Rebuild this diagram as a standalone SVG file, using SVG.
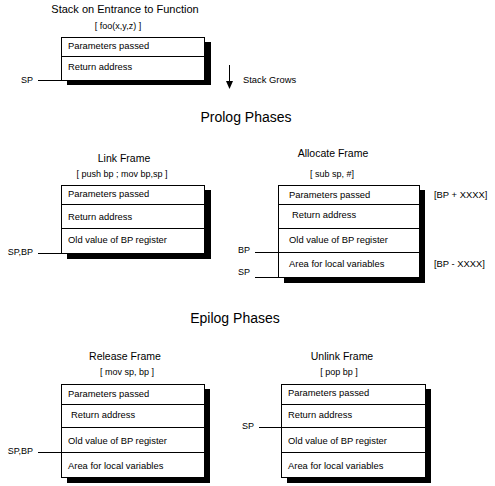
<svg xmlns="http://www.w3.org/2000/svg" width="495" height="486" viewBox="0 0 495 486">
<style>
text{font-family:"Liberation Sans",Arial,sans-serif;fill:#000}
.t{font-size:10.5px;text-anchor:middle}
.s{font-size:9px;text-anchor:middle}
.h{font-size:14px;text-anchor:middle}
.c{font-size:9.4px}
.l{font-size:9px;text-anchor:end}
.box{fill:#fff;stroke:#000;stroke-width:1}
.sh{fill:#000}
.div{stroke:#000;stroke-width:1}
.ptr{stroke:#000;stroke-width:1;fill:none}
</style>
<rect width="495" height="486" fill="#fff"/>

<g id="entrance">
<text class="t" x="125" y="13" style="font-size:11px">Stack on Entrance to Function</text>
<text class="s" x="118" y="29">[ foo(x,y,z) ]</text>
<rect class="sh" x="67" y="42" width="144" height="43"/>
<rect class="box" x="61.5" y="37.5" width="143" height="43"/>
<line class="div" x1="61.5" y1="56.5" x2="204.5" y2="56.5"/>
<text class="c" x="68" y="49">Parameters passed</text>
<text class="c" x="68" y="70">Return address</text>
</g>

<g id="stack-grows">
<line class="ptr" x1="229.5" y1="65" x2="229.5" y2="83"/>
<polygon points="226,81 233,81 229.5,89" fill="#000"/>
<text class="c" x="243" y="83">Stack Grows</text>
</g>

<g id="prolog-heading"><text class="h" x="246" y="122">Prolog Phases</text></g>

<g id="link-frame">
<text class="t" x="124" y="162">Link Frame</text>
<text class="s" x="122" y="177">[ push bp ; mov bp,sp ]</text>
<rect class="sh" x="67" y="190" width="144" height="69"/>
<rect class="box" x="61.5" y="185.5" width="143" height="68"/>
<line class="div" x1="61.5" y1="204.5" x2="204.5" y2="204.5"/>
<line class="div" x1="61.5" y1="228.5" x2="204.5" y2="228.5"/>
<text class="c" x="68" y="197">Parameters passed</text>
<text class="c" x="68" y="220">Return address</text>
<text class="c" x="68" y="243">Old value of BP register</text>
</g>

<g id="allocate-frame">
<text class="t" x="333" y="157">Allocate Frame</text>
<text class="s" x="332" y="177">[ sub sp, #]</text>
<rect class="sh" x="284" y="190" width="141" height="93"/>
<rect class="box" x="278.5" y="185.5" width="141" height="92"/>
<line class="div" x1="278.5" y1="204.5" x2="419.5" y2="204.5"/>
<line class="div" x1="278.5" y1="228.5" x2="419.5" y2="228.5"/>
<line class="div" x1="278.5" y1="252.5" x2="419.5" y2="252.5"/>
<text class="c" x="289" y="198">Parameters passed</text>
<text class="c" x="292" y="218">Return address</text>
<text class="c" x="289" y="243">Old value of BP register</text>
<text class="c" x="289" y="267">Area for local variables</text>
<text class="c" x="434" y="198">[BP + XXXX]</text>
<text class="c" x="434" y="267">[BP - XXXX]</text>
</g>

<g id="epilog-heading"><text class="h" x="235" y="323">Epilog Phases</text></g>

<g id="release-frame">
<text class="t" x="125" y="360">Release Frame</text>
<text class="s" x="127" y="375">[ mov sp, bp ]</text>
<rect class="sh" x="67" y="389" width="143" height="94"/>
<rect class="box" x="61.5" y="384.5" width="143" height="93"/>
<line class="div" x1="61.5" y1="404.5" x2="204.5" y2="404.5"/>
<line class="div" x1="61.5" y1="427.5" x2="204.5" y2="427.5"/>
<line class="div" x1="61.5" y1="452.5" x2="204.5" y2="452.5"/>
<text class="c" x="68" y="397">Parameters passed</text>
<text class="c" x="71" y="418">Return address</text>
<text class="c" x="68" y="444">Old value of BP register</text>
<text class="c" x="68" y="469">Area for local variables</text>
</g>

<g id="unlink-frame">
<text class="t" x="342" y="360">Unlink Frame</text>
<text class="s" x="339" y="375">[ pop bp ]</text>
<rect class="sh" x="287" y="389" width="144" height="94"/>
<rect class="box" x="281.5" y="384.5" width="144" height="93"/>
<line class="div" x1="281.5" y1="404.5" x2="425.5" y2="404.5"/>
<line class="div" x1="281.5" y1="427.5" x2="425.5" y2="427.5"/>
<line class="div" x1="281.5" y1="452.5" x2="425.5" y2="452.5"/>
<text class="c" x="288" y="396">Parameters passed</text>
<text class="c" x="288" y="418">Return address</text>
<text class="c" x="288" y="444">Old value of BP register</text>
<text class="c" x="288" y="469">Area for local variables</text>
</g>

<g id="connectors">
<line class="ptr" x1="38" y1="80.5" x2="61.5" y2="80.5"/>
<text class="l" x="33" y="83">SP</text>
<line class="ptr" x1="38" y1="253.5" x2="61.5" y2="253.5"/>
<text class="l" x="33" y="255">SP,BP</text>
<line class="ptr" x1="255" y1="252.5" x2="278.5" y2="252.5"/>
<text class="l" x="250" y="253">BP</text>
<line class="ptr" x1="255" y1="277.5" x2="278.5" y2="277.5"/>
<text class="l" x="250" y="275">SP</text>
<line class="ptr" x1="38" y1="452.5" x2="61.5" y2="452.5"/>
<text class="l" x="33" y="454">SP,BP</text>
<line class="ptr" x1="259" y1="427.5" x2="281.5" y2="427.5"/>
<text class="l" x="254" y="429">SP</text>
</g>
</svg>
